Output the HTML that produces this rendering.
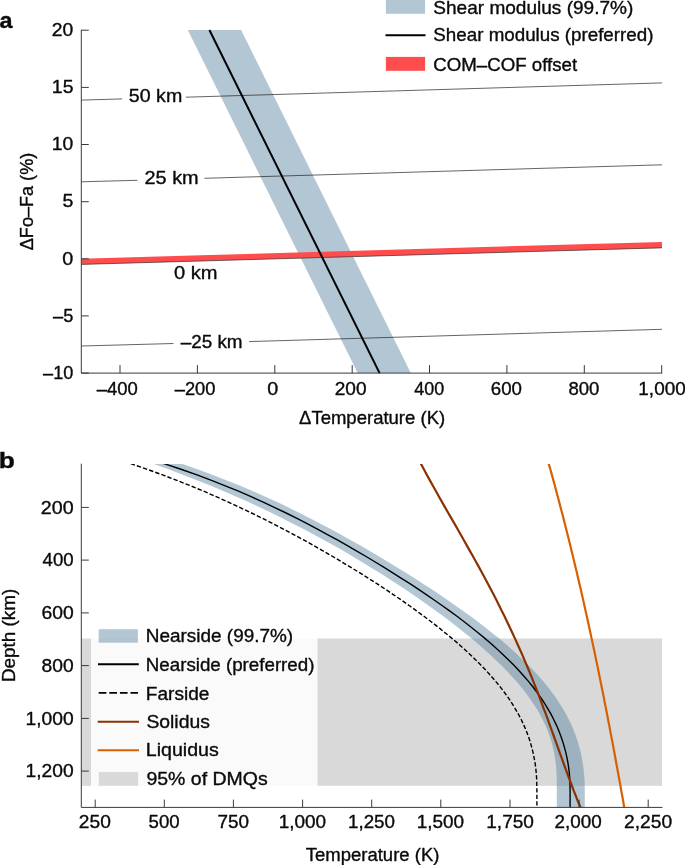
<!DOCTYPE html>
<html><head><meta charset="utf-8"><title>Figure</title>
<style>
html,body{margin:0;padding:0;background:#fff;}
body{width:685px;height:865px;overflow:hidden;}
svg{display:block;}
text{font-family:"Liberation Sans",sans-serif;fill:#0a0a0a;stroke:#0a0a0a;stroke-width:0.35px;stroke-linejoin:round;}
#txt{opacity:0.999;}
</style></head><body>
<svg width="685" height="865" viewBox="0 0 685 865">
<rect width="685" height="865" fill="#fff"/>

<g id="panel-a">
<polygon points="187.8,30 241.1,30 410.8,373.1 357.7,373.1" fill="#b3c6d4"/>
<path d="M81.3 100.1 L122 98.9 M185.8 97.2 L662 82.9" stroke="#222" stroke-width="0.7" fill="none"/>
<path d="M81.3 181.8 L137.4 180.3 M204.4 178.3 L662 164.8" stroke="#222" stroke-width="0.7" fill="none"/>
<path d="M81.3 346.0 L173.5 343.5 M249.1 341.6 L662 329.3" stroke="#222" stroke-width="0.7" fill="none"/>
<polygon points="81.3,258.7 662,241.9 662,247.9 81.3,264.5" fill="#ff4d4d"/>
<path d="M81.3 264.4 L662 247.8" stroke="#333" stroke-width="0.7" fill="none"/>
<path d="M209.4 30 L379.6 373.1" stroke="#000" stroke-width="2" fill="none"/>
<path d="M81.3 29.7 V373.1 H662.2" stroke="#3a3a3a" stroke-width="1" fill="none"/>
<path d="M81.3 30.2 h7.5 M81.3 87.4 h7.5 M81.3 144.5 h7.5 M81.3 201.7 h7.5 M81.3 258.8 h7.5 M81.3 315.9 h7.5 M81.3 373.1 h7.5 M120.0 373.1 v-8 M197.4 373.1 v-8 M274.8 373.1 v-8 M352.2 373.1 v-8 M429.5 373.1 v-8 M506.9 373.1 v-8 M584.3 373.1 v-8 M661.7 373.1 v-8" stroke="#3a3a3a" stroke-width="1" fill="none"/>
</g>
<rect x="385.9" y="0" width="39.2" height="13.8" fill="#b3c6d4"/>
<path d="M385.5 35.3 H425.5" stroke="#000" stroke-width="2"/>
<rect x="385.9" y="56.9" width="39.2" height="13.9" fill="#ff4d4d"/>
<g id="panel-b">
<rect x="81.3" y="638.5" width="580.7" height="147.3" fill="#d9d9d9"/>
<rect x="91" y="622" width="226.5" height="168" fill="#fff" fill-opacity="0.87"/>
<clipPath id="cb"><rect x="81.3" y="463.9" width="581" height="343.5"/></clipPath><g clip-path="url(#cb)">
<path d="M143.0 460.1 L154.1 464.1 L169.1 469.5 L183.5 474.9 L197.4 480.4 L210.9 485.8 L223.8 491.2 L236.4 496.7 L248.5 502.1 L260.3 507.6 L271.7 513.0 L282.8 518.4 L293.5 523.9 L304.0 529.3 L314.2 534.8 L324.2 540.2 L333.9 545.6 L343.5 551.1 L352.8 556.5 L361.9 562.0 L370.8 567.4 L379.5 572.8 L388.1 578.3 L396.5 583.7 L404.7 589.1 L412.8 594.6 L420.7 600.0 L428.4 605.5 L436.0 610.9 L443.4 616.3 L450.6 621.8 L457.6 627.2 L464.5 632.7 L471.1 638.1 L477.6 643.5 L483.8 649.0 L489.9 654.4 L495.7 659.9 L501.3 665.3 L506.6 670.7 L511.7 676.2 L516.6 681.6 L521.1 687.0 L525.5 692.5 L529.5 697.9 L533.2 703.4 L536.7 708.8 L539.9 714.2 L542.7 719.7 L545.3 725.1 L547.6 730.6 L549.6 736.0 L551.4 741.4 L552.8 746.9 L554.0 752.3 L555.0 757.8 L555.7 763.2 L556.2 768.6 L556.6 774.1 L556.8 779.5 L556.8 784.9 L556.8 790.4 L556.8 795.8 L556.8 801.3 L556.8 806.7 L556.8 809.7 L584.8 809.7 L584.8 806.7 L584.8 801.3 L584.8 795.8 L584.8 790.4 L584.7 784.9 L584.5 779.5 L584.1 774.1 L583.5 768.6 L582.8 763.2 L581.8 757.8 L580.7 752.3 L579.3 746.9 L577.7 741.4 L575.9 736.0 L573.8 730.6 L571.5 725.1 L568.9 719.7 L566.1 714.2 L563.0 708.8 L559.6 703.4 L556.0 697.9 L552.1 692.5 L547.9 687.0 L543.5 681.6 L538.8 676.2 L533.8 670.7 L528.5 665.3 L523.0 659.9 L517.3 654.4 L511.3 649.0 L505.1 643.5 L498.6 638.1 L491.9 632.7 L485.0 627.2 L477.9 621.8 L470.6 616.3 L463.1 610.9 L455.4 605.5 L447.6 600.0 L439.5 594.6 L431.4 589.1 L423.0 583.7 L414.6 578.3 L405.9 572.8 L397.1 567.4 L388.2 562.0 L379.1 556.5 L369.9 551.1 L360.5 545.6 L350.9 540.2 L341.1 534.8 L331.2 529.3 L320.9 523.9 L310.5 518.4 L299.7 513.0 L288.7 507.6 L277.2 502.1 L265.4 496.7 L253.1 491.2 L240.3 485.8 L226.9 480.4 L212.9 474.9 L198.1 469.5 L182.5 464.1 L171.0 460.1 Z" fill="#56809f" fill-opacity="0.45"/>
<path d="M153.6 460.1 L165.5 464.1 L181.7 469.5 L197.0 474.9 L211.5 480.4 L225.3 485.8 L238.5 491.2 L251.1 496.7 L263.2 502.1 L274.8 507.6 L286.1 513.0 L297.0 518.4 L307.6 523.9 L317.9 529.3 L327.9 534.8 L337.8 540.2 L347.4 545.6 L356.8 551.1 L366.1 556.5 L375.2 562.0 L384.1 567.4 L392.8 572.8 L401.4 578.3 L409.9 583.7 L418.2 589.1 L426.3 594.6 L434.2 600.0 L442.0 605.5 L449.6 610.9 L457.0 616.3 L464.2 621.8 L471.2 627.2 L478.0 632.7 L484.6 638.1 L490.9 643.5 L497.0 649.0 L502.9 654.4 L508.6 659.9 L514.0 665.3 L519.1 670.7 L524.0 676.2 L528.7 681.6 L533.0 687.0 L537.1 692.5 L541.0 697.9 L544.6 703.4 L547.9 708.8 L551.0 714.2 L553.8 719.7 L556.4 725.1 L558.7 730.6 L560.8 736.0 L562.7 741.4 L564.3 746.9 L565.8 752.3 L567.0 757.8 L568.0 763.2 L568.8 768.6 L569.4 774.1 L569.8 779.5 L570.0 784.9 L570.1 790.4 L570.1 795.8 L570.1 801.3 L570.1 806.7 L570.1 809.7" stroke="#000" stroke-width="1.4" fill="none"/>
<path d="M120.6 460.1 L132.1 464.1 L147.7 469.5 L162.6 474.9 L176.9 480.4 L190.5 485.8 L203.6 491.2 L216.2 496.7 L228.4 502.1 L240.2 507.6 L251.5 513.0 L262.6 518.4 L273.4 523.9 L283.8 529.3 L294.1 534.8 L304.1 540.2 L313.8 545.6 L323.4 551.1 L332.8 556.5 L341.9 562.0 L350.9 567.4 L359.8 572.8 L368.4 578.3 L376.9 583.7 L385.2 589.1 L393.3 594.6 L401.3 600.0 L409.1 605.5 L416.6 610.9 L424.0 616.3 L431.2 621.8 L438.3 627.2 L445.0 632.7 L451.6 638.1 L458.0 643.5 L464.1 649.0 L470.0 654.4 L475.7 659.9 L481.1 665.3 L486.3 670.7 L491.2 676.2 L495.9 681.6 L500.3 687.0 L504.5 692.5 L508.4 697.9 L512.0 703.4 L515.3 708.8 L518.4 714.2 L521.3 719.7 L523.8 725.1 L526.2 730.6 L528.2 736.0 L530.1 741.4 L531.6 746.9 L533.0 752.3 L534.1 757.8 L535.1 763.2 L535.8 768.6 L536.3 774.1 L536.7 779.5 L536.8 784.9 L536.9 790.4 L536.9 795.8 L536.9 801.3 L536.9 806.7 L536.9 809.7" stroke="#000" stroke-width="1.4" stroke-dasharray="4.4 2.1" stroke-dashoffset="2.3" fill="none"/>
<path d="M418.9 460.1 L421.1 464.1 L424.0 469.5 L426.9 474.9 L429.9 480.4 L432.9 485.8 L436.0 491.2 L439.0 496.7 L442.1 502.1 L445.2 507.6 L448.3 513.0 L451.4 518.4 L454.6 523.9 L457.7 529.3 L460.8 534.8 L463.9 540.2 L466.9 545.6 L470.0 551.1 L473.1 556.5 L476.1 562.0 L479.1 567.4 L482.0 572.8 L485.0 578.3 L487.9 583.7 L490.7 589.1 L493.6 594.6 L496.4 600.0 L499.1 605.5 L501.8 610.9 L504.5 616.3 L507.1 621.8 L509.7 627.2 L512.3 632.7 L514.8 638.1 L517.2 643.5 L519.7 649.0 L522.1 654.4 L524.4 659.9 L526.7 665.3 L529.0 670.7 L531.2 676.2 L533.4 681.6 L535.5 687.0 L537.7 692.5 L539.7 697.9 L541.8 703.4 L543.8 708.8 L545.9 714.2 L547.9 719.7 L549.8 725.1 L551.8 730.6 L553.8 736.0 L555.7 741.4 L557.7 746.9 L559.6 752.3 L561.6 757.8 L563.5 763.2 L565.5 768.6 L567.5 774.1 L569.5 779.5 L571.6 784.9 L573.6 790.4 L575.8 795.8 L577.9 801.3 L580.2 806.7 L581.4 809.7" stroke="#8a3200" stroke-width="2.2" fill="none"/>
<path d="M547.7 460.1 L548.8 464.1 L550.4 469.5 L551.9 474.9 L553.4 480.4 L554.9 485.8 L556.3 491.2 L557.8 496.7 L559.2 502.1 L560.6 507.6 L562.1 513.0 L563.5 518.4 L564.9 523.9 L566.2 529.3 L567.6 534.8 L569.0 540.2 L570.3 545.6 L571.6 551.1 L573.0 556.5 L574.3 562.0 L575.6 567.4 L576.9 572.8 L578.1 578.3 L579.4 583.7 L580.7 589.1 L581.9 594.6 L583.2 600.0 L584.4 605.5 L585.6 610.9 L586.8 616.3 L588.0 621.8 L589.2 627.2 L590.4 632.7 L591.5 638.1 L592.7 643.5 L593.9 649.0 L595.0 654.4 L596.1 659.9 L597.3 665.3 L598.4 670.7 L599.5 676.2 L600.6 681.6 L601.7 687.0 L602.8 692.5 L603.9 697.9 L604.9 703.4 L606.0 708.8 L607.1 714.2 L608.1 719.7 L609.2 725.1 L610.2 730.6 L611.2 736.0 L612.3 741.4 L613.3 746.9 L614.3 752.3 L615.3 757.8 L616.3 763.2 L617.3 768.6 L618.3 774.1 L619.3 779.5 L620.3 784.9 L621.2 790.4 L622.2 795.8 L623.2 801.3 L624.1 806.7 L624.7 809.7" stroke="#d86000" stroke-width="2.2" fill="none"/>
</g>
<path d="M81.3 463.7 V807.4 H662.5" stroke="#3a3a3a" stroke-width="1" fill="none"/>
<path d="M81.3 507.4 h7.5 M81.3 560.1 h7.5 M81.3 612.9 h7.5 M81.3 665.6 h7.5 M81.3 718.4 h7.5 M81.3 771.1 h7.5 M95.2 807.4 v-7.8 M164.3 807.4 v-7.8 M233.4 807.4 v-7.8 M302.6 807.4 v-7.8 M371.7 807.4 v-7.8 M440.8 807.4 v-7.8 M510.0 807.4 v-7.8 M579.1 807.4 v-7.8 M648.2 807.4 v-7.8" stroke="#3a3a3a" stroke-width="1" fill="none"/>
<rect x="98.7" y="629.2" width="39.2" height="13.5" fill="#56809f" fill-opacity="0.45"/>
<path d="M98 664.3 H138.8" stroke="#000" stroke-width="2"/>
<path d="M98.7 692.9 H138" stroke="#000" stroke-width="1.6" stroke-dasharray="7.7 2.9"/>
<path d="M97.7 721.8 H139" stroke="#8a3200" stroke-width="2.1"/>
<path d="M97.7 750.3 H139" stroke="#d86000" stroke-width="2.1"/>
<rect x="98.8" y="772.1" width="39.3" height="13.7" fill="#d9d9d9"/>
</g>
<g id="txt"><text transform="translate(51.83 36.00) scale(1.0732 1)" font-size="18.0">20</text>
<text transform="translate(51.85 93.15) scale(1.0776 1)" font-size="18.0">15</text>
<text transform="translate(51.85 150.30) scale(1.0722 1)" font-size="18.0">10</text>
<text transform="translate(62.52 207.45) scale(1.0877 1)" font-size="18.0">5</text>
<text transform="translate(62.31 264.60) scale(1.0995 1)" font-size="18.0">0</text>
<text transform="translate(53.10 321.75) scale(1.0125 1)" font-size="18.0">–5</text>
<text transform="translate(43.10 378.90) scale(1.0055 1)" font-size="18.0">–10</text>
<text transform="translate(96.75 394.90) scale(1.0274 1)" font-size="18.0">–400</text>
<text transform="translate(174.70 394.90) scale(1.0198 1)" font-size="18.0">–200</text>
<text transform="translate(267.26 394.90) scale(1.0995 1)" font-size="18.0">0</text>
<text transform="translate(334.64 394.90) scale(1.0619 1)" font-size="18.0">200</text>
<text transform="translate(414.19 394.90) scale(0.9972 1)" font-size="18.0">400</text>
<text transform="translate(490.82 394.90) scale(1.0373 1)" font-size="18.0">600</text>
<text transform="translate(568.41 394.90) scale(1.0340 1)" font-size="18.0">800</text>
<text transform="translate(638.33 394.90) scale(1.0530 1)" font-size="18.0">1,000</text>
<text transform="translate(299.04 424.10) scale(1.0292 1)" font-size="18.0">ΔTemperature (K)</text>
<text transform="translate(33.30 250.24) rotate(-90) scale(1.0052 1)" font-size="18.0">ΔFo–Fa (%)</text>
<text transform="translate(-0.40 27.70) scale(1.0867 1)" font-size="21.5" font-weight="bold">a</text>
<text transform="translate(128.81 102.10) scale(1.0920 1)" font-size="18.0">50 km</text>
<text transform="translate(144.50 183.80) scale(1.1069 1)" font-size="18.0">25 km</text>
<text transform="translate(174.00 278.60) scale(1.1165 1)" font-size="18.0">0 km</text>
<text transform="translate(180.70 347.60) scale(1.0489 1)" font-size="18.0">–25 km</text>
<text transform="translate(433.34 14.20) scale(1.0588 1)" font-size="18.0">Shear modulus (99.7%)</text>
<text transform="translate(433.35 41.40) scale(1.0437 1)" font-size="18.0">Shear modulus (preferred)</text>
<text transform="translate(433.27 71.00) scale(1.0385 1)" font-size="18.0">COM–COF offset</text>
<text transform="translate(40.82 513.60) scale(1.0935 1)" font-size="18.0">200</text>
<text transform="translate(42.53 566.34) scale(1.0352 1)" font-size="18.0">400</text>
<text transform="translate(41.43 619.08) scale(1.0724 1)" font-size="18.0">600</text>
<text transform="translate(41.53 671.82) scale(1.0691 1)" font-size="18.0">800</text>
<text transform="translate(25.46 724.56) scale(1.0693 1)" font-size="18.0">1,000</text>
<text transform="translate(25.46 777.30) scale(1.0693 1)" font-size="18.0">1,200</text>
<text transform="translate(78.84 828.00) scale(1.0654 1)" font-size="18.0">250</text>
<text transform="translate(148.56 828.00) scale(1.0342 1)" font-size="18.0">500</text>
<text transform="translate(217.50 828.00) scale(1.0513 1)" font-size="18.0">750</text>
<text transform="translate(278.73 828.00) scale(1.0530 1)" font-size="18.0">1,000</text>
<text transform="translate(348.04 828.00) scale(1.0437 1)" font-size="18.0">1,250</text>
<text transform="translate(416.73 828.00) scale(1.0530 1)" font-size="18.0">1,500</text>
<text transform="translate(486.27 828.00) scale(1.0600 1)" font-size="18.0">1,750</text>
<text transform="translate(554.46 828.00) scale(1.0490 1)" font-size="18.0">2,000</text>
<text transform="translate(623.99 828.00) scale(1.0697 1)" font-size="18.0">2,250</text>
<text transform="translate(305.73 860.80) scale(1.0279 1)" font-size="18.0">Temperature (K)</text>
<text transform="translate(15.00 682.11) rotate(-90) scale(1.0486 1)" font-size="18.0">Depth (km)</text>
<text transform="translate(-1.31 467.60) scale(1.2250 1)" font-size="21.5" font-weight="bold">b</text>
<text transform="translate(145.78 641.70) scale(1.0529 1)" font-size="18.0">Nearside (99.7%)</text>
<text transform="translate(145.80 671.20) scale(1.0415 1)" font-size="18.0">Nearside (preferred)</text>
<text transform="translate(145.77 699.80) scale(1.0609 1)" font-size="18.0">Farside</text>
<text transform="translate(146.43 728.30) scale(1.0747 1)" font-size="18.0">Solidus</text>
<text transform="translate(145.73 756.30) scale(1.0911 1)" font-size="18.0">Liquidus</text>
<text transform="translate(146.42 784.70) scale(1.0822 1)" font-size="18.0">95% of DMQs</text></g>
</svg></body></html>
